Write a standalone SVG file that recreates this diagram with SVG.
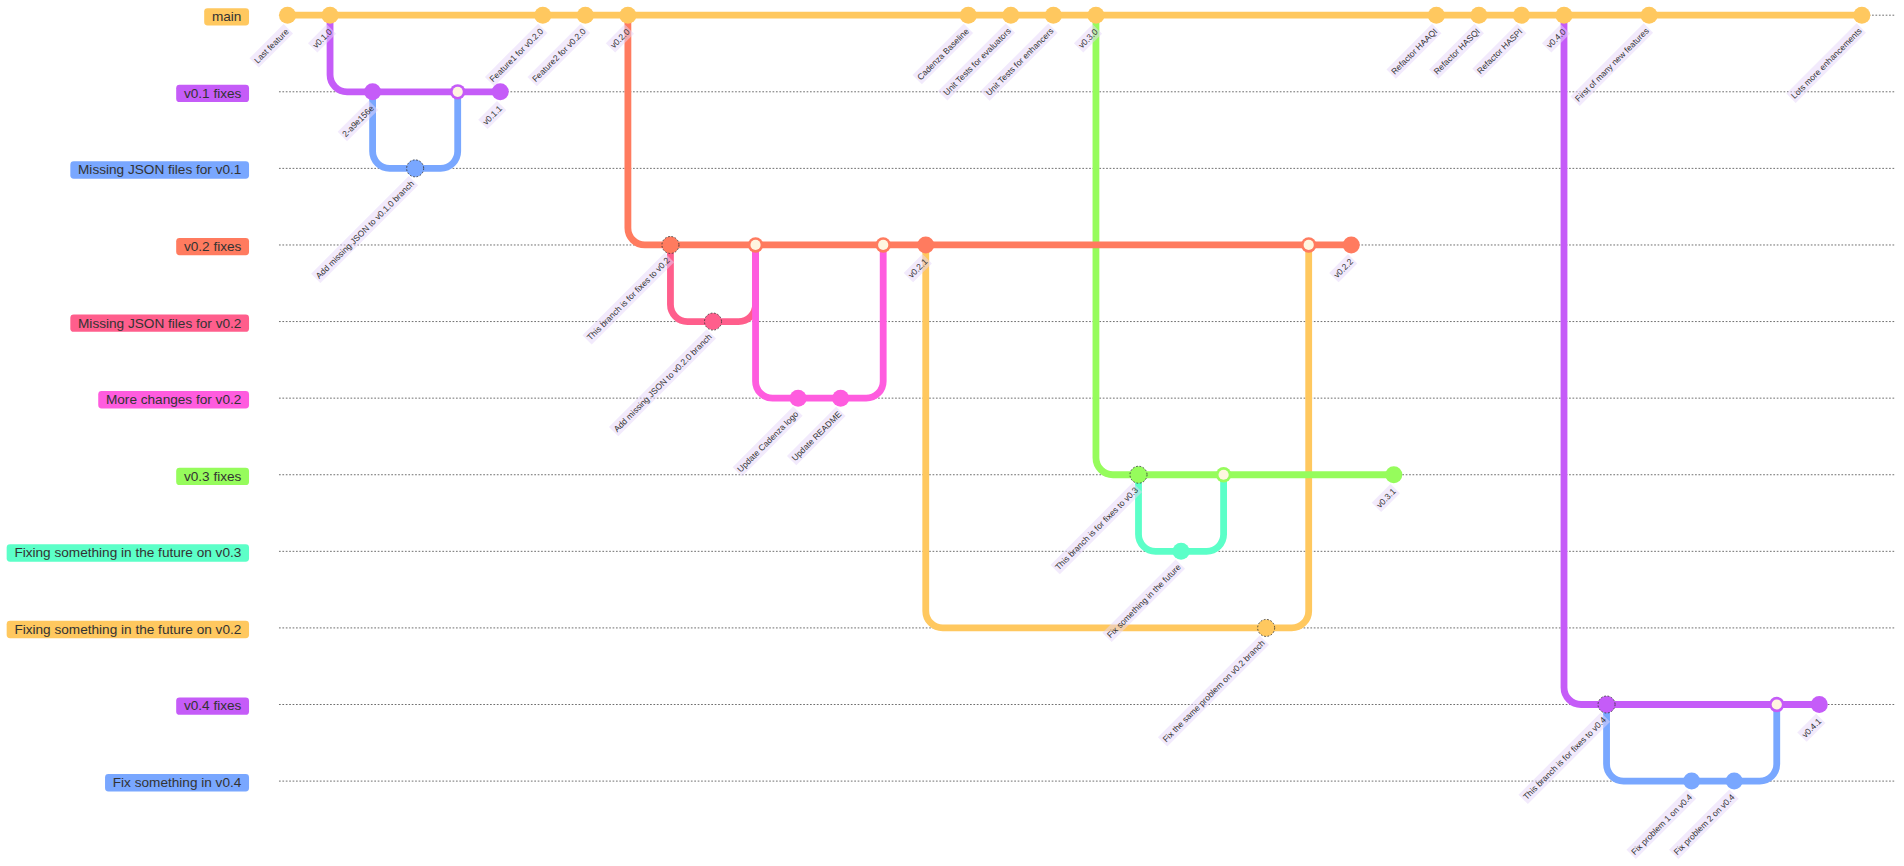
<svg xmlns="http://www.w3.org/2000/svg" width="1904" height="866" viewBox="0 0 1904 866">
<style>
.bl{stroke:#555;stroke-width:1;stroke-dasharray:2 2;fill:none}
.bt{font-family:"Liberation Sans",Arial,sans-serif;font-size:16px;fill:#333;text-anchor:middle}
.ct{font-family:"Liberation Sans",Arial,sans-serif;font-size:10px;fill:#333;text-anchor:end}
.cb{fill:#E6D6FA;opacity:0.5}
.ar{fill:none;stroke-width:8;stroke-linecap:butt}
.dot{stroke:#333;stroke-width:1;stroke-dasharray:2 2}
.mi{fill:#FFF6E0}
.f0{fill:#FFC85F}.s0{stroke:#FFC85F}
.f1{fill:#C55CF8}.s1{stroke:#C55CF8}
.f2{fill:#79A7FF}.s2{stroke:#79A7FF}
.f3{fill:#FF7B5F}.s3{stroke:#FF7B5F}
.f4{fill:#FF5E8C}.s4{stroke:#FF5E8C}
.f5{fill:#FF5CDF}.s5{stroke:#FF5CDF}
.f6{fill:#96FC5C}.s6{stroke:#96FC5C}
.f7{fill:#5CFFC8}.s7{stroke:#5CFFC8}
</style>
<rect width="1904" height="866" fill="#fff"/>
<g transform="translate(287.5,15.2) scale(0.851)">
<g id="branch-lines">
<line class="bl" x1="-10" y1="0" x2="1890" y2="0"/>
<line class="bl" x1="-10" y1="90" x2="1890" y2="90"/>
<line class="bl" x1="-10" y1="180" x2="1890" y2="180"/>
<line class="bl" x1="-10" y1="270" x2="1890" y2="270"/>
<line class="bl" x1="-10" y1="360" x2="1890" y2="360"/>
<line class="bl" x1="-10" y1="450" x2="1890" y2="450"/>
<line class="bl" x1="-10" y1="540" x2="1890" y2="540"/>
<line class="bl" x1="-10" y1="630" x2="1890" y2="630"/>
<line class="bl" x1="-10" y1="720" x2="1890" y2="720"/>
<line class="bl" x1="-10" y1="810" x2="1890" y2="810"/>
<line class="bl" x1="-10" y1="900" x2="1890" y2="900"/>
</g>
<g id="branch-main"><rect class="f0" x="-97.9" y="-8.3" width="52.7" height="20.4" rx="4"/><text class="bt" x="-71.55" y="7">main</text></g>
<g id="branch-v01-fixes"><rect class="f1" x="-130.8" y="81.7" width="85.6" height="20.4" rx="4"/><text class="bt" x="-88" y="97">v0.1 fixes</text></g>
<g id="branch-missing-json-v01"><rect class="f2" x="-255.2" y="171.7" width="210" height="20.4" rx="4"/><text class="bt" x="-150.2" y="187">Missing JSON files for v0.1</text></g>
<g id="branch-v02-fixes"><rect class="f3" x="-130.8" y="261.7" width="85.6" height="20.4" rx="4"/><text class="bt" x="-88" y="277">v0.2 fixes</text></g>
<g id="branch-missing-json-v02"><rect class="f4" x="-255.2" y="351.7" width="210" height="20.4" rx="4"/><text class="bt" x="-150.2" y="367">Missing JSON files for v0.2</text></g>
<g id="branch-more-changes-v02"><rect class="f5" x="-222.4" y="441.7" width="177.2" height="20.4" rx="4"/><text class="bt" x="-133.8" y="457">More changes for v0.2</text></g>
<g id="branch-v03-fixes"><rect class="f6" x="-130.8" y="531.7" width="85.6" height="20.4" rx="4"/><text class="bt" x="-88" y="547">v0.3 fixes</text></g>
<g id="branch-future-v03"><rect class="f7" x="-330" y="621.7" width="284.8" height="20.4" rx="4"/><text class="bt" x="-187.6" y="637">Fixing something in the future on v0.3</text></g>
<g id="branch-future-v02"><rect class="f0" x="-330" y="711.7" width="284.8" height="20.4" rx="4"/><text class="bt" x="-187.6" y="727">Fixing something in the future on v0.2</text></g>
<g id="branch-v04-fixes"><rect class="f1" x="-130.8" y="801.7" width="85.6" height="20.4" rx="4"/><text class="bt" x="-88" y="817">v0.4 fixes</text></g>
<g id="branch-fix-v04"><rect class="f2" x="-214.4" y="891.7" width="169.2" height="20.4" rx="4"/><text class="bt" x="-129.8" y="907">Fix something in v0.4</text></g>

<g id="connectors">
<path class="ar s0" d="M0 0 L50 0"/>
<path class="ar s1" d="M50 0 L50 70 A20 20 0 0 0 70 90 L100 90"/>
<path class="ar s2" d="M100 90 L100 160 A20 20 0 0 0 120 180 L150 180"/>
<path class="ar s1" d="M100 90 L200 90"/>
<path class="ar s2" d="M150 180 L180 180 A20 20 0 0 0 200 160 L200 90"/>
<path class="ar s1" d="M200 90 L250 90"/>
<path class="ar s0" d="M50 0 L300 0"/>
<path class="ar s0" d="M300 0 L350 0"/>
<path class="ar s0" d="M350 0 L400 0"/>
<path class="ar s3" d="M400 0 L400 250 A20 20 0 0 0 420 270 L450 270"/>
<path class="ar s4" d="M450 270 L450 340 A20 20 0 0 0 470 360 L500 360"/>
<path class="ar s3" d="M450 270 L550 270"/>
<path class="ar s4" d="M500 360 L530 360 A20 20 0 0 0 550 340 L550 270"/>
<path class="ar s5" d="M550 270 L550 430 A20 20 0 0 0 570 450 L600 450"/>
<path class="ar s5" d="M600 450 L650 450"/>
<path class="ar s3" d="M550 270 L700 270"/>
<path class="ar s5" d="M650 450 L680 450 A20 20 0 0 0 700 430 L700 270"/>
<path class="ar s3" d="M700 270 L750 270"/>
<path class="ar s0" d="M400 0 L800 0"/>
<path class="ar s0" d="M800 0 L850 0"/>
<path class="ar s0" d="M850 0 L900 0"/>
<path class="ar s0" d="M900 0 L950 0"/>
<path class="ar s6" d="M950 0 L950 520 A20 20 0 0 0 970 540 L1000 540"/>
<path class="ar s7" d="M1000 540 L1000 610 A20 20 0 0 0 1020 630 L1050 630"/>
<path class="ar s6" d="M1000 540 L1100 540"/>
<path class="ar s7" d="M1050 630 L1080 630 A20 20 0 0 0 1100 610 L1100 540"/>
<path class="ar s0" d="M750 270 L750 700 A20 20 0 0 0 770 720 L1150 720"/>
<path class="ar s3" d="M750 270 L1200 270"/>
<path class="ar s0" d="M1150 720 L1180 720 A20 20 0 0 0 1200 700 L1200 270"/>
<path class="ar s3" d="M1200 270 L1250 270"/>
<path class="ar s6" d="M1100 540 L1300 540"/>
<path class="ar s0" d="M950 0 L1350 0"/>
<path class="ar s0" d="M1350 0 L1400 0"/>
<path class="ar s0" d="M1400 0 L1450 0"/>
<path class="ar s0" d="M1450 0 L1500 0"/>
<path class="ar s1" d="M1500 0 L1500 790 A20 20 0 0 0 1520 810 L1550 810"/>
<path class="ar s0" d="M1500 0 L1600 0"/>
<path class="ar s2" d="M1550 810 L1550 880 A20 20 0 0 0 1570 900 L1650 900"/>
<path class="ar s2" d="M1650 900 L1700 900"/>
<path class="ar s1" d="M1550 810 L1750 810"/>
<path class="ar s2" d="M1700 900 L1730 900 A20 20 0 0 0 1750 880 L1750 810"/>
<path class="ar s1" d="M1750 810 L1800 810"/>
<path class="ar s0" d="M1600 0 L1850 0"/>
</g>

<g id="commits">
<g id="c-last-feature"><circle class="f0" cx="0" cy="0" r="10"/><g transform="translate(2.2,20) rotate(-45)"><rect class="cb" x="-54.8" y="-11.5" width="56.8" height="15.5"/><text class="ct">Last feature</text></g></g>
<g id="c-v010"><circle class="f0" cx="50" cy="0" r="10"/><g transform="translate(52.9,20.3) rotate(-45)"><rect class="cb" x="-29.2" y="-11.5" width="31.2" height="15.5"/><text class="ct">v0.1.0</text></g></g>
<g id="c-2-a9e156e"><circle class="f1" cx="100" cy="90" r="10"/><g transform="translate(102.3,110) rotate(-45)"><rect class="cb" x="-49.8" y="-11.5" width="51.8" height="15.5"/><text class="ct">2-a9e156e</text></g></g>
<g id="c-json-v010"><circle class="f2 dot" cx="150" cy="180" r="10"/><g transform="translate(149.3,198.5) rotate(-45)"><rect class="cb" x="-160.4" y="-11.5" width="162.4" height="15.5"/><text class="ct">Add missing JSON to v0.1.0 branch</text></g></g>
<g id="c-merge-4"><circle class="f1" cx="200" cy="90" r="9"/><circle class="mi" cx="200" cy="90" r="6"/></g>
<g id="c-v011"><circle class="f1" cx="250" cy="90" r="10"/><g transform="translate(252.9,110.3) rotate(-45)"><rect class="cb" x="-29.2" y="-11.5" width="31.2" height="15.5"/><text class="ct">v0.1.1</text></g></g>
<g id="c-feature1"><circle class="f0" cx="300" cy="0" r="10"/><g transform="translate(301.3,19.5) rotate(-45)"><rect class="cb" x="-86.5" y="-11.5" width="88.5" height="15.5"/><text class="ct">Feature1 for v0.2.0</text></g></g>
<g id="c-feature2"><circle class="f0" cx="350" cy="0" r="10"/><g transform="translate(351.3,19.5) rotate(-45)"><rect class="cb" x="-86.5" y="-11.5" width="88.5" height="15.5"/><text class="ct">Feature2 for v0.2.0</text></g></g>
<g id="c-v020"><circle class="f0" cx="400" cy="0" r="10"/><g transform="translate(402.9,20.3) rotate(-45)"><rect class="cb" x="-29.2" y="-11.5" width="31.2" height="15.5"/><text class="ct">v0.2.0</text></g></g>
<g id="c-fixes-v02"><circle class="f3 dot" cx="450" cy="270" r="10"/><g transform="translate(450,288.8) rotate(-45)"><rect class="cb" x="-134.8" y="-11.5" width="136.8" height="15.5"/><text class="ct">This branch is for fixes to v0.2</text></g></g>
<g id="c-json-v020"><circle class="f4 dot" cx="500" cy="360" r="10"/><g transform="translate(499.3,378.5) rotate(-45)"><rect class="cb" x="-160.4" y="-11.5" width="162.4" height="15.5"/><text class="ct">Add missing JSON to v0.2.0 branch</text></g></g>
<g id="c-merge-11"><circle class="f3" cx="550" cy="270" r="9"/><circle class="mi" cx="550" cy="270" r="6"/></g>
<g id="c-cadenza-logo"><circle class="f5" cx="600" cy="450" r="10"/><g transform="translate(601,469.4) rotate(-45)"><rect class="cb" x="-98.7" y="-11.5" width="100.7" height="15.5"/><text class="ct">Update Cadenza logo</text></g></g>
<g id="c-readme"><circle class="f5" cx="650" cy="450" r="10"/><g transform="translate(651.5,469.6) rotate(-45)"><rect class="cb" x="-79.8" y="-11.5" width="81.8" height="15.5"/><text class="ct">Update README</text></g></g>
<g id="c-merge-14"><circle class="f3" cx="700" cy="270" r="9"/><circle class="mi" cx="700" cy="270" r="6"/></g>
<g id="c-v021"><circle class="f3" cx="750" cy="270" r="10"/><g transform="translate(752.9,290.3) rotate(-45)"><rect class="cb" x="-29.2" y="-11.5" width="31.2" height="15.5"/><text class="ct">v0.2.1</text></g></g>
<g id="c-cadenza-baseline"><circle class="f0" cx="800" cy="0" r="10"/><g transform="translate(801.4,19.6) rotate(-45)"><rect class="cb" x="-83.2" y="-11.5" width="85.2" height="15.5"/><text class="ct">Cadenza Baseline</text></g></g>
<g id="c-tests-evaluators"><circle class="f0" cx="850" cy="0" r="10"/><g transform="translate(850.7,19.2) rotate(-45)"><rect class="cb" x="-110.4" y="-11.5" width="112.4" height="15.5"/><text class="ct">Unit Tests for evaluators</text></g></g>
<g id="c-tests-enhancers"><circle class="f0" cx="900" cy="0" r="10"/><g transform="translate(900.7,19.2) rotate(-45)"><rect class="cb" x="-110.9" y="-11.5" width="112.9" height="15.5"/><text class="ct">Unit Tests for enhancers</text></g></g>
<g id="c-v030"><circle class="f0" cx="950" cy="0" r="10"/><g transform="translate(952.9,20.3) rotate(-45)"><rect class="cb" x="-29.2" y="-11.5" width="31.2" height="15.5"/><text class="ct">v0.3.0</text></g></g>
<g id="c-fixes-v03"><circle class="f6 dot" cx="1000" cy="540" r="10"/><g transform="translate(1000,558.8) rotate(-45)"><rect class="cb" x="-134.8" y="-11.5" width="136.8" height="15.5"/><text class="ct">This branch is for fixes to v0.3</text></g></g>
<g id="c-fix-future"><circle class="f7" cx="1050" cy="630" r="10"/><g transform="translate(1050.4,649.1) rotate(-45)"><rect class="cb" x="-119.8" y="-11.5" width="121.8" height="15.5"/><text class="ct">Fix something in the future</text></g></g>
<g id="c-merge-22"><circle class="f6" cx="1100" cy="540" r="9"/><circle class="mi" cx="1100" cy="540" r="6"/></g>
<g id="c-fix-same"><circle class="f0 dot" cx="1150" cy="720" r="10"/><g transform="translate(1149.1,738.4) rotate(-45)"><rect class="cb" x="-167.1" y="-11.5" width="169.1" height="15.5"/><text class="ct">Fix the same problem on v0.2 branch</text></g></g>
<g id="c-merge-24"><circle class="f3" cx="1200" cy="270" r="9"/><circle class="mi" cx="1200" cy="270" r="6"/></g>
<g id="c-v022"><circle class="f3" cx="1250" cy="270" r="10"/><g transform="translate(1252.9,290.3) rotate(-45)"><rect class="cb" x="-29.2" y="-11.5" width="31.2" height="15.5"/><text class="ct">v0.2.2</text></g></g>
<g id="c-v031"><circle class="f6" cx="1300" cy="540" r="10"/><g transform="translate(1302.9,560.3) rotate(-45)"><rect class="cb" x="-29.2" y="-11.5" width="31.2" height="15.5"/><text class="ct">v0.3.1</text></g></g>
<g id="c-haaqi"><circle class="f0" cx="1350" cy="0" r="10"/><g transform="translate(1351.7,19.7) rotate(-45)"><rect class="cb" x="-73.7" y="-11.5" width="75.7" height="15.5"/><text class="ct">Refactor HAAQI</text></g></g>
<g id="c-hasqi"><circle class="f0" cx="1400" cy="0" r="10"/><g transform="translate(1401.7,19.7) rotate(-45)"><rect class="cb" x="-73.7" y="-11.5" width="75.7" height="15.5"/><text class="ct">Refactor HASQI</text></g></g>
<g id="c-haspi"><circle class="f0" cx="1450" cy="0" r="10"/><g transform="translate(1451.7,19.7) rotate(-45)"><rect class="cb" x="-72.6" y="-11.5" width="74.6" height="15.5"/><text class="ct">Refactor HASPI</text></g></g>
<g id="c-v040"><circle class="f0" cx="1500" cy="0" r="10"/><g transform="translate(1502.9,20.3) rotate(-45)"><rect class="cb" x="-29.2" y="-11.5" width="31.2" height="15.5"/><text class="ct">v0.4.0</text></g></g>
<g id="c-fixes-v04"><circle class="f1 dot" cx="1550" cy="810" r="10"/><g transform="translate(1550,828.8) rotate(-45)"><rect class="cb" x="-134.8" y="-11.5" width="136.8" height="15.5"/><text class="ct">This branch is for fixes to v0.4</text></g></g>
<g id="c-first-features"><circle class="f0" cx="1600" cy="0" r="10"/><g transform="translate(1600.4,19.1) rotate(-45)"><rect class="cb" x="-119.8" y="-11.5" width="121.8" height="15.5"/><text class="ct">First of many new features</text></g></g>
<g id="c-fix-problem-1"><circle class="f2" cx="1650" cy="900" r="10"/><g transform="translate(1651,919.4) rotate(-45)"><rect class="cb" x="-98.2" y="-11.5" width="100.2" height="15.5"/><text class="ct">Fix problem 1 on v0.4</text></g></g>
<g id="c-fix-problem-2"><circle class="f2" cx="1700" cy="900" r="10"/><g transform="translate(1701,919.4) rotate(-45)"><rect class="cb" x="-98.2" y="-11.5" width="100.2" height="15.5"/><text class="ct">Fix problem 2 on v0.4</text></g></g>
<g id="c-merge-35"><circle class="f1" cx="1750" cy="810" r="9"/><circle class="mi" cx="1750" cy="810" r="6"/></g>
<g id="c-v041"><circle class="f1" cx="1800" cy="810" r="10"/><g transform="translate(1802.9,830.3) rotate(-45)"><rect class="cb" x="-29.2" y="-11.5" width="31.2" height="15.5"/><text class="ct">v0.4.1</text></g></g>
<g id="c-lots-more"><circle class="f0" cx="1850" cy="0" r="10"/><g transform="translate(1850.6,19.1) rotate(-45)"><rect class="cb" x="-114.8" y="-11.5" width="116.8" height="15.5"/><text class="ct">Lots more enhancements</text></g></g>
</g>
</g>
</svg>
